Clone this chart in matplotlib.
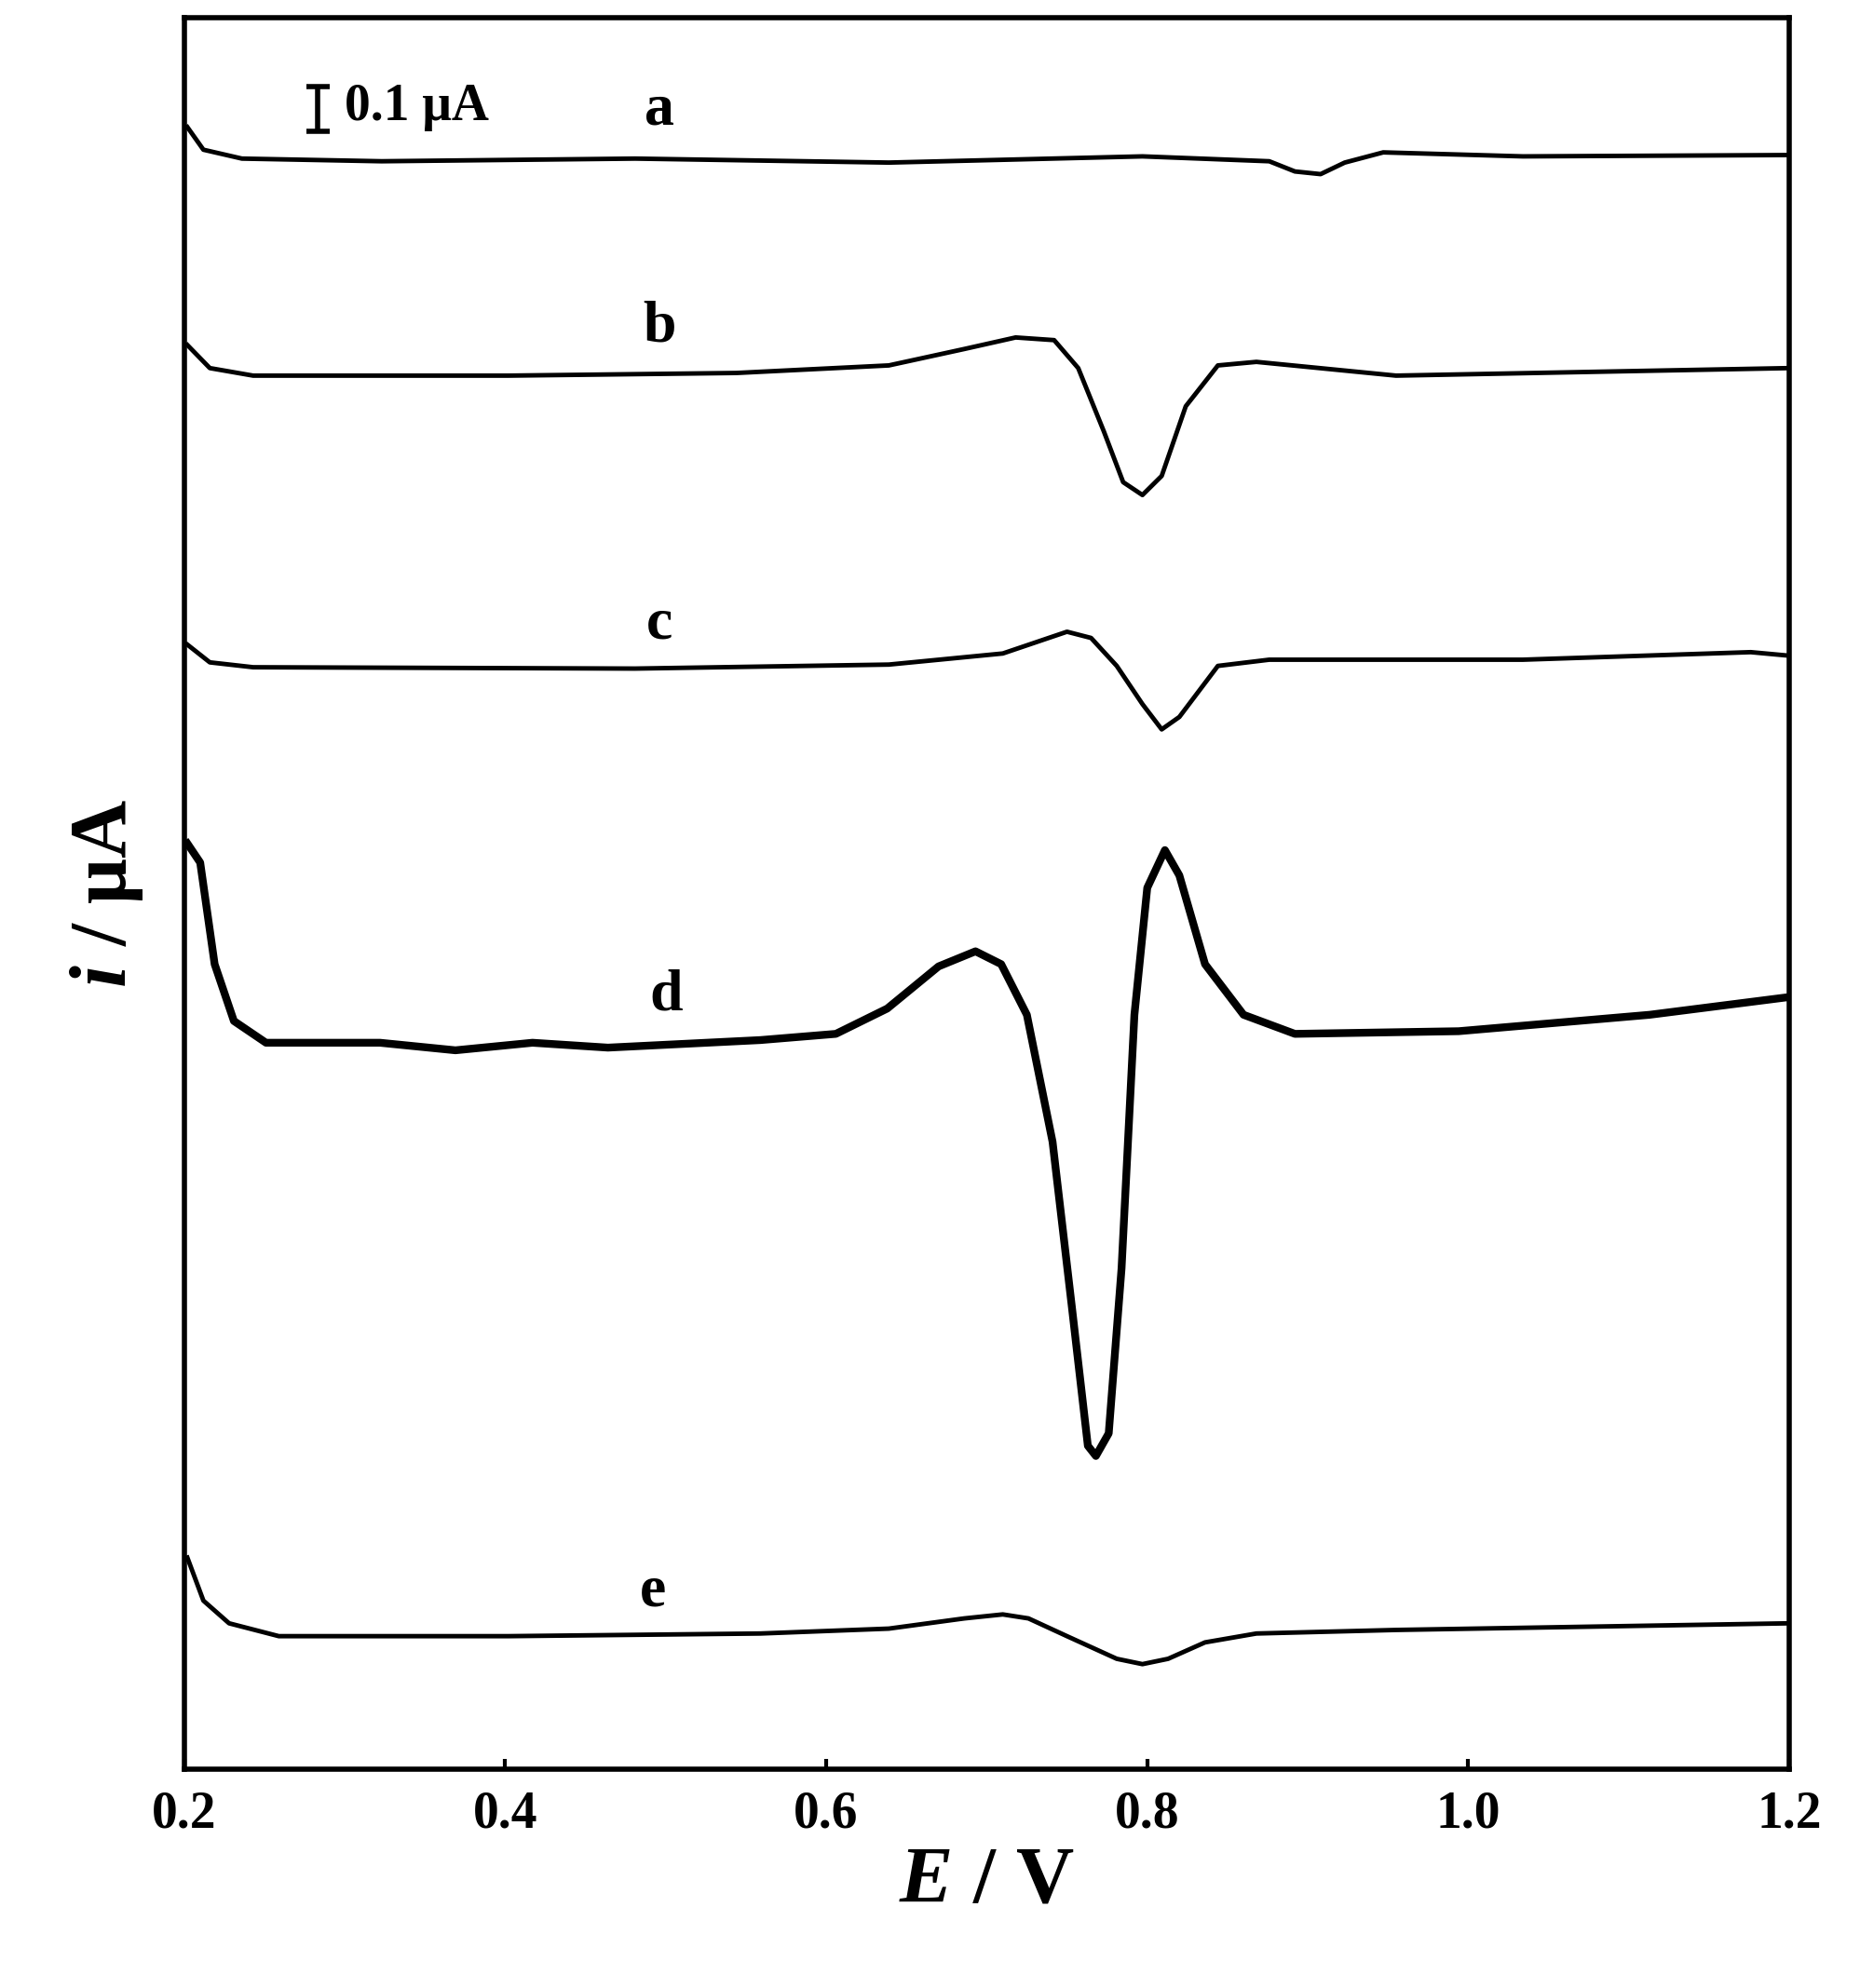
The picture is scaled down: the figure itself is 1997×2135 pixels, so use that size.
import matplotlib
matplotlib.use("Agg")
import matplotlib.pyplot as plt

plt.rcParams['font.family'] = 'Liberation Serif'
plt.rcParams['font.weight'] = 'bold'
plt.rcParams['mathtext.fontset'] = 'custom'
plt.rcParams['mathtext.it'] = 'Liberation Serif:italic:bold'
plt.rcParams['mathtext.rm'] = 'Liberation Serif:bold'

# potentials (V) and currents (uA, with vertical offsets)
E_a = [0.202, 0.212, 0.236, 0.323, 0.481, 0.639, 0.797, 0.876, 0.892, 0.908, 0.923, 0.947, 1.034, 1.2]
i_a = [3.700, 3.649, 3.629, 3.623, 3.629, 3.620, 3.634, 3.623, 3.600, 3.594, 3.620, 3.643, 3.634, 3.637]

E_b = [0.202, 0.216, 0.243, 0.402, 0.544, 0.639, 0.686, 0.718, 0.742, 0.757, 0.773, 0.785, 0.797, 0.809,
       0.824, 0.844, 0.868, 0.955, 1.113, 1.2]
i_b = [3.209, 3.157, 3.140, 3.140, 3.146, 3.163, 3.200, 3.226, 3.220, 3.157, 3.014, 2.900, 2.871, 2.914,
       3.071, 3.163, 3.171, 3.140, 3.151, 3.157]

E_c = [0.202, 0.216, 0.243, 0.481, 0.639, 0.710, 0.750, 0.765, 0.781, 0.797, 0.809, 0.820, 0.844, 0.876,
       1.034, 1.176, 1.2]
i_c = [2.534, 2.494, 2.483, 2.480, 2.489, 2.514, 2.563, 2.549, 2.486, 2.400, 2.343, 2.371, 2.486, 2.500,
       2.500, 2.517, 2.509]

E_d = [0.202, 0.210, 0.219, 0.231, 0.251, 0.322, 0.369, 0.417, 0.464, 0.559, 0.606, 0.638, 0.670, 0.693,
       0.709, 0.725, 0.741, 0.753, 0.763, 0.768, 0.776, 0.784, 0.792, 0.800, 0.811, 0.820, 0.836, 0.860,
       0.892, 0.994, 1.113, 1.2]
i_d = [2.086, 2.043, 1.814, 1.686, 1.637, 1.637, 1.620, 1.637, 1.626, 1.643, 1.657, 1.714, 1.809, 1.843,
       1.814, 1.700, 1.414, 1.043, 0.729, 0.706, 0.757, 1.129, 1.700, 1.986, 2.071, 2.014, 1.814, 1.700,
       1.657, 1.663, 1.700, 1.740]

E_e = [0.202, 0.212, 0.228, 0.259, 0.402, 0.559, 0.639, 0.686, 0.710, 0.726, 0.750, 0.781, 0.797, 0.813,
       0.836, 0.868, 0.955, 1.2]
i_e = [0.477, 0.380, 0.329, 0.300, 0.300, 0.306, 0.317, 0.340, 0.349, 0.340, 0.300, 0.249, 0.237, 0.249,
       0.286, 0.306, 0.314, 0.329]

curve_labels = ['a', 'b', 'c', 'd', 'e']
label_E = [0.496, 0.496, 0.496, 0.500, 0.492]
label_i = [3.737, 3.249, 2.580, 1.743, 0.400]

fig = plt.figure(figsize=(19.97, 21.35), dpi=100)
ax = fig.add_axes([0.099, 0.110, 0.863, 0.881])

curves = [(E_a, i_a), (E_b, i_b), (E_c, i_c), (E_d, i_d), (E_e, i_e)]
for k, (E, cur) in enumerate(curves):
    lw = 6 if k == 3 else 3.5
    ax.plot(E, cur, color='black', lw=lw, solid_joinstyle='round')
    ax.text(label_E[k], label_i[k], curve_labels[k], fontsize=46, fontweight='bold',
            ha='center', va='center')

# scale bar 0.1 uA
ax.errorbar([0.283], [3.741], yerr=[0.05], color='black', capsize=9, elinewidth=4, capthick=4)
ax.text(0.300, 3.745, '0.1 \u03bcA', fontsize=40, fontweight='bold', va='center', ha='left')

ax.set_xlim(0.2, 1.2)
ax.set_ylim(0, 3.946)
ax.set_xticks([0.2, 0.4, 0.6, 0.8, 1.0, 1.2])
ax.set_xticklabels(['0.2', '0.4', '0.6', '0.8', '1.0', '1.2'])
ax.set_yticks([])
ax.tick_params(axis='x', direction='in', length=8, width=3, labelsize=40, pad=16)
for sp in ax.spines.values():
    sp.set_linewidth(4)

ax.set_xlabel(r'$E$ / V', fontsize=62, fontweight='bold', labelpad=6)
ax.set_ylabel(r'$i$ / \u03bcA'.replace('\\u03bc', '\u03bc'), fontsize=62, fontweight='bold', labelpad=30)

fig.savefig('out.png', dpi=100)
